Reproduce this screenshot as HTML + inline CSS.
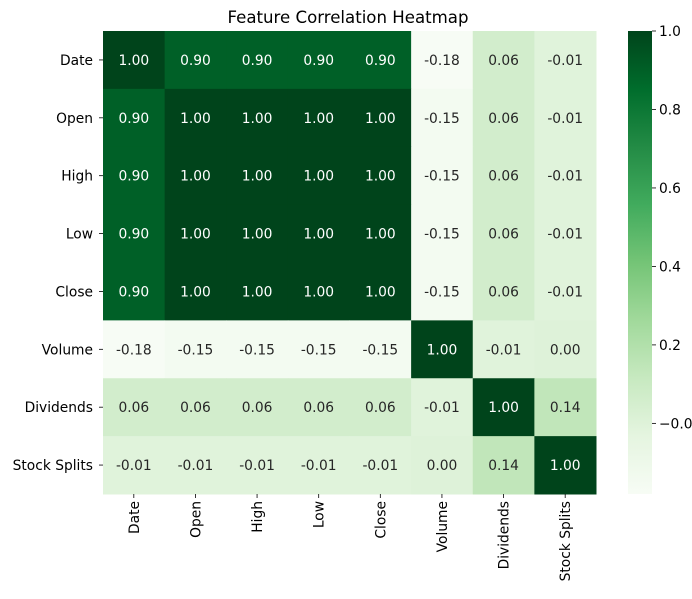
<!DOCTYPE html>
<html><head><meta charset="utf-8"><style>
body{margin:0;background:#fff;}
svg text{font-family:"DejaVu Sans","Liberation Sans",sans-serif;}
</style></head><body>
<svg id="chart" width="692" height="594">
<defs><linearGradient id="cbgrad" x1="0" y1="1" x2="0" y2="0"></linearGradient></defs>
<text x="348" y="23" font-size="16.6" text-anchor="middle" fill="#000">Feature Correlation Heatmap</text>
<g id="cells"></g><g id="xt"></g><g id="yt"></g><g id="cb"></g>
</svg>
<script>
const labels=["Date","Open","High","Low","Close","Volume","Dividends","Stock Splits"];
const row0=[1.00,0.90,0.90,0.90,0.90,-0.18,0.06,-0.01];
const row1=[0.90,1.00,1.00,1.00,1.00,-0.15,0.06,-0.01];
const row2=[0.90,1.00,1.00,1.00,1.00,-0.15,0.06,-0.01];
const row3=[0.90,1.00,1.00,1.00,1.00,-0.15,0.06,-0.01];
const row4=[0.90,1.00,1.00,1.00,1.00,-0.15,0.06,-0.01];
const row5=[-0.18,-0.15,-0.15,-0.15,-0.15,1.00,-0.01,0.00];
const row6=[0.06,0.06,0.06,0.06,0.06,-0.01,1.00,0.14];
const row7=[-0.01,-0.01,-0.01,-0.01,-0.01,0.00,0.14,1.00];
const matrix=[row0,row1,row2,row3,row4,row5,row6,row7];
const cbTicks=[-0.0,0.2,0.4,0.6,0.8,1.0];
const cbTickLabels=["−0.0","0.2","0.4","0.6","0.8","1.0"];
const NS="http://www.w3.org/2000/svg";
const X0=103,X1=596,Y0=31,Y1=494,n=labels.length;
const cw=(X1-X0)/n,ch=(Y1-Y0)/n;
const vmin=-0.18,vmax=1.0;
const FS=13.8;
const stops=["#f7fcf5","#e5f5e0","#c7e9c0","#a1d99b","#74c476","#41ab5d","#238b45","#006d2c","#00441b"];
function hx(c){return [1,3,5].map(i=>parseInt(c.substr(i,2),16));}
function cmap(v){let t=Math.max(0,Math.min(1,(v-vmin)/(vmax-vmin)))*8;let i=Math.min(7,Math.floor(t)),f=t-i;
const a=hx(stops[i]),b=hx(stops[i+1]);return a.map((x,k)=>Math.round(x+(b[k]-x)*f));}
function mk(tag,attrs,parent){const e=document.createElementNS(NS,tag);for(const k in attrs)e.setAttribute(k,attrs[k]);parent.appendChild(e);return e;}
const cells=document.getElementById('cells');
matrix.forEach((row,r)=>row.forEach((v,c)=>{
 const rgb=cmap(v);
 const rect=mk('rect',{x:X0+c*cw,y:Y0+r*ch,width:cw+0.5,height:ch+0.5,fill:`rgb(${rgb})`},cells);
 
 
 const lum=(0.2126*rgb[0]+0.7152*rgb[1]+0.0722*rgb[2])/255;
 const t=mk('text',{x:X0+(c+0.5)*cw,y:Y0+(r+0.5)*ch+5,'font-size':FS,'text-anchor':'middle',fill:lum>0.408?'#262626':'#fff'},cells);
 t.textContent=v.toFixed(2);
 
 
}));
const xt=document.getElementById('xt'),yt=document.getElementById('yt');
labels.forEach((l,i)=>{
 const x=X0+(i+0.5)*cw;
 mk('line',{x1:x,x2:x,y1:Y1,y2:Y1+4,stroke:'#000','stroke-width':0.8},xt);
 const t=mk('text',{x:0,y:0,'font-size':FS,'text-anchor':'end',transform:`translate(${x+5},${Y1+7}) rotate(-90)`},xt);
 t.textContent=l;
 
 
 const y=Y0+(i+0.5)*ch;
 mk('line',{x1:X0-4,x2:X0,y1:y,y2:y,stroke:'#000','stroke-width':0.8},yt);
 const s=mk('text',{x:X0-10,y:y+5,'font-size':FS,'text-anchor':'end'},yt);
 s.textContent=l;
 
 
});
const g=document.getElementById('cbgrad');
stops.forEach((s,i)=>mk('stop',{offset:(i/8),'stop-color':s},g));
const cb=document.getElementById('cb');
const CX=628,CW=24;
const bar=mk('rect',{x:CX,y:Y0,width:CW,height:Y1-Y0,fill:'url(#cbgrad)'},cb);


function cy(v){return Y1-(v-vmin)/(vmax-vmin)*(Y1-Y0);}
cbTicks.forEach((v,i)=>{
 const y=cy(v);
 mk('line',{x1:CX+CW,x2:CX+CW+4,y1:y,y2:y,stroke:'#000','stroke-width':0.8},cb);
 const t=mk('text',{x:CX+CW+7,y:y+5,'font-size':FS},cb);
 t.textContent=cbTickLabels[i];
 
 
});
</script>
</body></html>
